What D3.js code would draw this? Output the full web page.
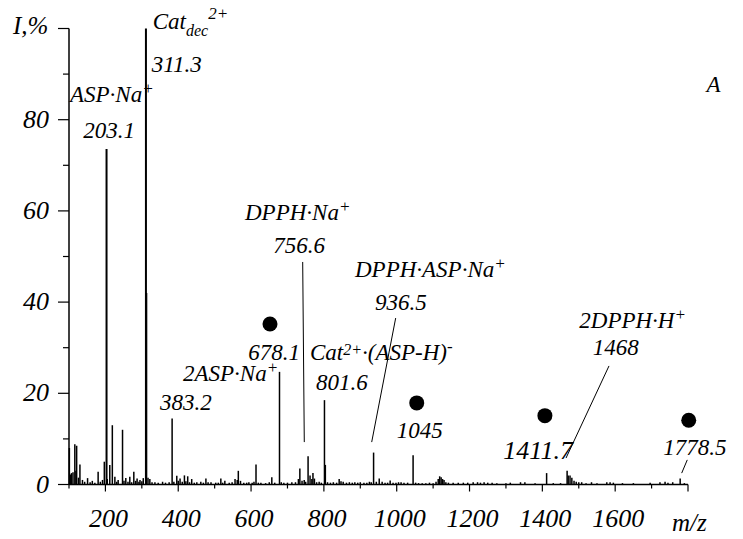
<!doctype html>
<html>
<head>
<meta charset="utf-8">
<script src="https://d3js.org/d3.v7.min.js"></script>
</head>
<body style="margin:0">
<svg width="743" height="539"></svg>
<script>
// spectrum peaks: m/z and relative intensity, %
const peakMz = [101,104,107,111,116,119,121,126,130,137,143,151,158,164,171,180,186,192,197,203.1,205,212,219,226,231,235,247,251,256,262,267,272,278,283,287,292,295,300,304,311.3,313,317,322,328,336,345,357,365,375,383.2,388,396,400,405,411,417,421,426,431,437,444,451,462,469,476,482,490,503,510,517,522,528,540,548,556,562,565,571,580,588,594,603,608,613.6,620,627,640,650,657,665,678.1,683,690,700,712,722,730,734,740,746,750,756.6,762,767,770,774,780,787,793,801.6,804,810,818,826,835,842,847,853,862,870,878,885,893,900,910,918,925,930,936.5,944,952,960,968,975,982,990,998,1005,1012,1020,1030,1045,1052,1060,1070,1080,1090,1100,1108,1114,1118,1122,1126,1130,1135,1142,1155,1169,1183,1195,1210,1222,1230,1240,1250,1262,1275,1300,1312,1340,1352,1380,1411.7,1430,1450,1468,1471,1476,1481,1487,1493,1500,1508,1520,1535,1550,1577,1586,1595,1620,1650,1696,1723,1737,1745,1758,1778.5,1790];
const peakI  = [8,2.2,2.5,2.7,8.8,3,8.5,1.5,4.4,1.0,0.6,1.4,0.5,0.8,0.4,2.8,0.6,1.0,5,73.6,1.2,4.3,13,1.7,0.6,1.0,12,0.8,1.4,0.6,1.7,0.5,2.8,0.8,1.3,0.6,1.0,0.7,1.4,100,42,1.5,1.2,0.5,0.5,0.4,0.6,0.4,0.5,14.5,0.6,1.9,0.8,1.3,0.6,2.0,0.7,1.8,0.5,1.2,0.4,0.5,0.6,0.4,1.3,0.5,0.5,0.4,0.4,1.3,0.4,0.8,0.4,0.5,1.2,1.0,3,0.8,0.4,0.4,0.5,0.4,0.6,4.4,0.4,0.4,0.3,0.5,1.6,0.4,24.7,0.5,0.4,0.4,0.5,0.5,1.2,3.5,0.8,1.0,0.6,6.2,2.0,1.2,2.5,1.3,0.5,0.6,0.4,18.5,4.3,0.5,0.4,0.5,0.4,1.2,0.7,0.6,0.4,0.5,0.4,0.5,0.4,0.5,0.4,0.4,0.6,0.5,7.0,0.6,1.3,0.6,0.4,0.4,0.9,0.4,0.4,0.5,0.5,0.4,0.4,6.4,0.4,0.3,0.3,0.3,0.4,0.3,0.6,1.2,1.8,1.6,1.2,1.0,0.5,0.4,0.4,0.4,0.4,0.4,0.5,0.5,0.4,0.5,0.4,0.4,0.3,0.3,0.4,0.5,0.5,0.3,2.5,0.3,0.3,3.0,2.0,2.0,1.5,0.8,0.6,0.5,0.5,0.3,0.5,0.3,0.5,0.5,0.4,0.3,0.3,0.4,0.5,0.6,0.4,0.5,1.3,0.3];

const xTicks = [100,200,300,400,500,600,700,800,900,1000,1100,1200,1300,1400,1500,1600,1700,1800];
const xLabels = [200,400,600,800,1000,1200,1400,1600];
const yTicks = [0,10,20,30,40,50,60,70,80,90,100];
const yLabels = [0,20,40,60,80];

// dots marking the series of cluster ions [m/z, %]
const dotMz = [652, 1055, 1407, 1802];
const dotI  = [35.2, 17.9, 15.1, 14.1];

// annotation texts, anchored in data units [m/z, %]
const labels = [
  {parts:[["Cat",0],["dec",1],["2+",2]], mz:330, v:100},
  {parts:[["311.3",0]], mz:327, v:90.5},
  {parts:[["ASP·Na",0],["+",2]], mz:102.7, v:83.9},
  {parts:[["203.1",0]], mz:139.3, v:75.9},
  {parts:[["2ASP·Na",0],["+",2]], mz:413, v:22.7},
  {parts:[["383.2",0]], mz:350, v:16.3},
  {parts:[["DPPH·Na",0],["+",2]], mz:583.4, v:58.0},
  {parts:[["756.6",0]], mz:661.1, v:50.7},
  {parts:[["DPPH·ASP·Na",0],["+",2]], mz:885.5, v:45.4},
  {parts:[["936.5",0]], mz:940.4, v:38.3},
  {parts:[["678.1",0]], mz:592.4, v:27.3},
  {parts:[["Cat",0],["2+",3],["·(ASP-H)",0],["-",2]], mz:761.9, v:27.3},
  {parts:[["801.6",0]], mz:778.3, v:20.7},
  {parts:[["1045",0]], mz:1000, v:10.1},
  {parts:[["1411.7",0]], mz:1292.8, v:5.7, big:true},
  {parts:[["1778.5",0]], mz:1732.2, v:6.5},
  {parts:[["2DPPH·H",0],["+",2]], mz:1501.5, v:34.3},
  {parts:[["1468",0]], mz:1538.3, v:28.4},
  {parts:[["A",0]], mz:1851, v:86.1}
];

// leader lines [m/z, %] -> [m/z, %]
const leaders = [
  [[741.8,48.8],[746.2,9.3]],
  [[997.2,36.5],[931.3,9.3]],
  [[1583,26.0],[1465,5.8]],
  [[1798,5.4],[1782.7,2.5]]
];

const svg = d3.select('svg');
const x = d3.scaleLinear().domain([100,1800]).range([69,688]);
const y = d3.scaleLinear().domain([0,100]).range([484.5,28.5]);
const g = svg.append('g');

function txt(sel, fam) {
  return sel.attr('font-family', fam || 'Liberation Serif')
    .attr('font-style', 'italic')
    .attr('fill', '#000');
}

// peaks
const peaks = peakMz.map((m,i)=>({m:m, v:peakI[i]}));
g.selectAll('line.peak').data(peaks).join('line')
  .attr('class','peak')
  .attr('x1', d=>x(d.m)).attr('x2', d=>x(d.m))
  .attr('y1', y(0)).attr('y2', d=>y(d.v))
  .attr('stroke','black')
  .attr('stroke-width', d=>d.v > 50 ? 2 : 1.5);

// axes
g.append('line').attr('x1',x(100)).attr('x2',x(1800)).attr('y1',y(0)).attr('y2',y(0))
  .attr('stroke','black').attr('stroke-width',1.5);
g.append('line').attr('x1',x(100)).attr('x2',x(100)).attr('y1',y(0)).attr('y2',y(100))
  .attr('stroke','black').attr('stroke-width',1.5);

g.selectAll('line.xt').data(xTicks).join('line')
  .attr('class','xt')
  .attr('x1', d=>x(d)).attr('x2', d=>x(d))
  .attr('y1', y(0)).attr('y2', d=> y(0) + (d % 200 == 0 ? 7 : 4))
  .attr('stroke','black').attr('stroke-width',1.2);

g.selectAll('line.yt').data(yTicks).join('line')
  .attr('class','yt')
  .attr('x1', x(100)).attr('x2', d=> x(100) - (d % 20 == 0 ? 11 : 6))
  .attr('y1', d=>y(d)).attr('y2', d=>y(d))
  .attr('stroke','black').attr('stroke-width',1.2);

txt(g.selectAll('text.xl').data(xLabels).join('text'), 'Times New Roman')
  .attr('class','xl')
  .attr('x', d=>x(d)+3).attr('y', 527)
  .attr('text-anchor','middle').attr('font-size',26)
  .text(d=>d);

txt(g.selectAll('text.yl').data(yLabels).join('text'), 'Times New Roman')
  .attr('class','yl')
  .attr('x', 49).attr('y', d=>y(d)+8)
  .attr('text-anchor','end').attr('font-size',26)
  .text(d=>d);

txt(g.append('text')).attr('x',13).attr('y',34).attr('font-size',25).text('I,%');
txt(g.append('text')).attr('x',672).attr('y',531).attr('font-size',25).text('m/z');

// leaders
leaders.forEach(l=>{
  g.append('line')
    .attr('x1', x(l[0][0])).attr('y1', y(l[0][1]))
    .attr('x2', x(l[1][0])).attr('y2', y(l[1][1]))
    .attr('stroke','black').attr('stroke-width',1);
});

// dots
g.selectAll('circle.dot').data(dotMz.map((m,i)=>({m:m, v:dotI[i]}))).join('circle')
  .attr('class','dot')
  .attr('cx', d=>x(d.m)).attr('cy', d=>y(d.v)).attr('r', 7.5)
  .attr('fill','black');

// annotation labels: 0 normal, 1 subscript, 2 superscript, 3 small raised inline
labels.forEach(lb=>{
  const fs = lb.big ? 26 : 23;
  const t = txt(g.append('text'))
    .attr('x', x(lb.mz)).attr('y', y(lb.v))
    .attr('font-size', fs);
  let shift = 0;
  lb.parts.forEach(p=>{
    let target = 0, size = fs;
    if(p[1] == 1) { target = 7; size = 16; }
    else if(p[1] == 2) { target = -8; size = 17; }
    else if(p[1] == 3) { target = -5; size = 16; }
    if(lb.parts[0][0] == 'Cat' && p[1] == 2 && p[0] == '2+') target = -10;
    t.append('tspan')
      .attr('dy', target - shift)
      .attr('font-size', size)
      .text(p[0]);
    shift = target;
  });
});
</script>
</body>
</html>
